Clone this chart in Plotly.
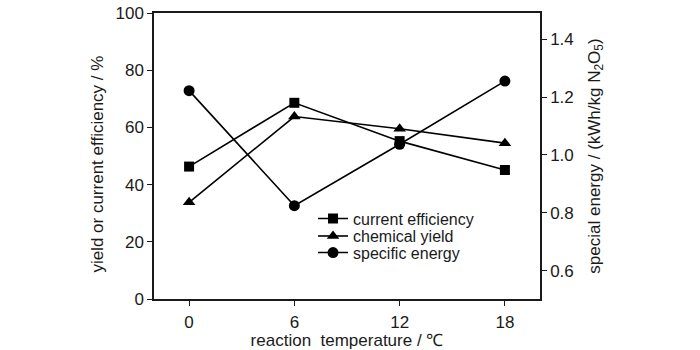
import plotly.graph_objects as go

temperature = [0, 6, 12, 18]
current_efficiency = [46.3, 68.6, 55.2, 45.1]
chemical_yield = [33.8, 63.8, 59.5, 54.5]
specific_energy = [1.222, 0.825, 1.037, 1.255]

x_ticks = [0, 6, 12, 18]
y_ticks = [0, 20, 40, 60, 80, 100]
y2_ticks = [0.6, 0.8, 1.0, 1.2, 1.4]

FONT = "Liberation Sans, Arial, sans-serif"
INK = "#1a1a1a"

fig = go.Figure()
fig.add_trace(go.Scatter(
    x=temperature, y=current_efficiency, name="current efficiency",
    mode="lines+markers", line=dict(color="black", width=1.6),
    marker=dict(symbol="square", size=10, color="black"), legend="legend",
    showlegend=True))
fig.add_trace(go.Scatter(
    x=temperature, y=chemical_yield, name="chemical yield",
    mode="lines+markers", line=dict(color="black", width=1.6),
    marker=dict(symbol="triangle-up", size=11, color="black"), legend="legend2",
    showlegend=True))
fig.add_trace(go.Scatter(
    x=temperature, y=specific_energy, name="specific energy", yaxis="y2",
    mode="lines+markers", line=dict(color="black", width=1.6),
    marker=dict(symbol="circle", size=11, color="black"), legend="legend3",
    showlegend=True))

leg = dict(bgcolor="rgba(0,0,0,0)", borderwidth=0, itemwidth=30,
           font=dict(family=FONT, size=16, color=INK),
           xanchor="left", yanchor="middle", x=0.412, visible=True)

fig.update_layout(
    width=700, height=350,
    margin=dict(l=154, r=160, t=13, b=51, autoexpand=False),
    paper_bgcolor="white", plot_bgcolor="white",
    font=dict(family=FONT, size=17, color=INK),
    showlegend=True,
    legend=dict(leg, y=0.281),
    legend2=dict(leg, y=0.220),
    legend3=dict(leg, y=0.162),
    xaxis=dict(range=[-2, 20], tickvals=x_ticks, showline=True, mirror=True,
               linecolor=INK, linewidth=1.5, ticks="outside", ticklen=5,
               tickcolor=INK, showgrid=False, zeroline=False, automargin=False,
               tickfont=dict(size=17), ticklabelstandoff=2,
               title=dict(text="reaction\u00a0\u00a0temperature / \u2103", standoff=1,
                          font=dict(size=17))),
    yaxis=dict(range=[0, 100], tickvals=y_ticks, showline=True,
               linecolor=INK, linewidth=1.5, ticks="outside", ticklen=5,
               tickcolor=INK, showgrid=False, zeroline=False, automargin=False,
               tickfont=dict(size=17)),
    yaxis2=dict(range=[0.503, 1.49], tickvals=y2_ticks, tickformat=".1f",
                overlaying="y", side="right", showline=True,
                linecolor=INK, linewidth=1.5, ticks="outside", ticklen=5,
                tickcolor=INK, showgrid=False, zeroline=False, automargin=False,
                tickfont=dict(size=17),
                title=dict(text="special energy / (kWh/kg N<sub>2</sub>O<sub>5</sub>)",
                           standoff=15, font=dict(size=17))),
    annotations=[dict(text="yield or current efficiency / %", textangle=-90,
                      xref="paper", yref="paper", x=-0.145, y=0.470,
                      xanchor="center", yanchor="middle", showarrow=False,
                      font=dict(family=FONT, size=17, color=INK))],
)

fig.write_html("out.html")
